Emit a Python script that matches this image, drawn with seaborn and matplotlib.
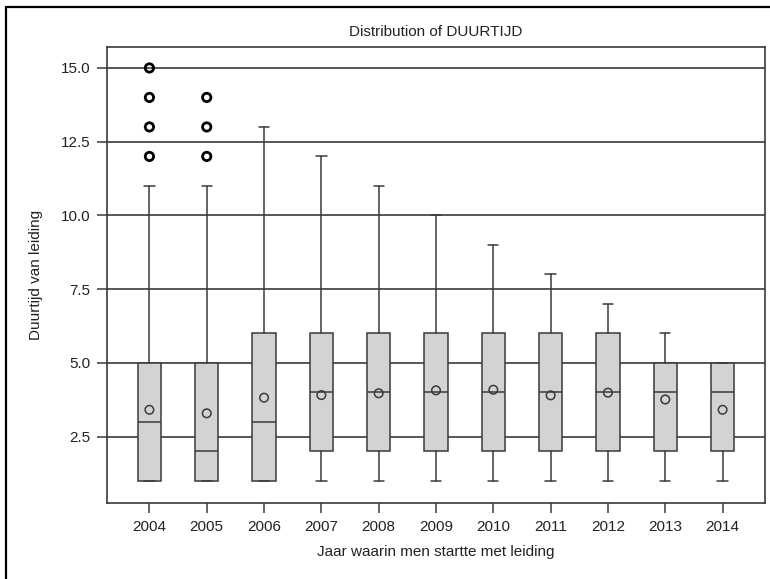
import matplotlib
matplotlib.use("Agg")
import matplotlib.pyplot as plt
import pandas as pd
import seaborn as sns
from matplotlib.lines import Line2D

# Box statistics, one entry per start year
years = [2004, 2005, 2006, 2007, 2008, 2009, 2010, 2011, 2012, 2013, 2014]
whisker_low = [1, 1, 1, 1, 1, 1, 1, 1, 1, 1, 1]
q1 = [1, 1, 1, 2, 2, 2, 2, 2, 2, 2, 2]
median = [3, 2, 3, 4, 4, 4, 4, 4, 4, 4, 4]
q3 = [5, 5, 6, 6, 6, 6, 6, 6, 6, 5, 5]
whisker_high = [11, 11, 13, 12, 11, 10, 9, 8, 7, 6, 5]
means = [3.41, 3.29, 3.82, 3.91, 3.97, 4.07, 4.09, 3.90, 3.99, 3.76, 3.41]
outlier_year = [2004, 2004, 2004, 2004, 2005, 2005, 2005]
outlier_value = [12, 13, 14, 15, 12, 13, 14]

sns.set_theme(style="white")
plt.rcParams["font.family"] = ["Liberation Sans", "DejaVu Sans"]

fig = plt.figure(figsize=(7.7, 5.79), dpi=100)
ax = fig.add_axes([107 / 770, 1 - 503 / 579, (765 - 107) / 770, (503 - 47) / 579])

edge = "#3a3a3a"
stats = [
    dict(whislo=lo, q1=a, med=m, q3=b, whishi=hi, label=str(y))
    for y, lo, a, m, b, hi in zip(years, whisker_low, q1, median, q3, whisker_high)
]
ax.bxp(stats, positions=range(len(years)), widths=0.41, patch_artist=True,
       showfliers=False, capwidths=0.18,
       boxprops=dict(facecolor="#d3d3d3", edgecolor=edge, linewidth=1.1),
       medianprops=dict(color=edge, linewidth=1.1),
       whiskerprops=dict(color=edge, linewidth=1.1),
       capprops=dict(color=edge, linewidth=1.1))

pos = {y: i for i, y in enumerate(years)}
mean_df = pd.DataFrame({"x": range(len(years)), "y": means})
sns.scatterplot(data=mean_df, x="x", y="y", ax=ax, marker="o", s=38,
                facecolor="none", edgecolor=edge, linewidth=1.1, zorder=4)
out_df = pd.DataFrame({"x": [pos[y] for y in outlier_year], "y": outlier_value})
sns.scatterplot(data=out_df, x="x", y="y", ax=ax, marker="o", s=36,
                facecolor="none", edgecolor="black", linewidth=2.0, zorder=4)

ax.set_xlim(-0.74, 10.74)
ax.set_ylim(0.25, 15.71)
ax.set_xticks(range(len(years)))
ax.set_xticklabels([str(y) for y in years])
ax.set_yticks([2.5, 5.0, 7.5, 10.0, 12.5, 15.0])
ax.set_yticklabels(["2.5", "5.0", "7.5", "10.0", "12.5", "15.0"])
ax.yaxis.grid(True, color="#4a4a4a", linewidth=1.3)
ax.xaxis.grid(False)
ax.set_axisbelow(True)
ax.tick_params(axis="both", which="major", bottom=True, left=True, length=7,
               width=1.2, color="#4a4a4a", labelsize=11, labelcolor="#222222", pad=5)
for s in ax.spines.values():
    s.set_color("#3a3a3a")
    s.set_linewidth(1.2)

ax.set_xlabel("Jaar waarin men startte met leiding", fontsize=11, color="#222222", labelpad=8)
ax.set_ylabel("Duurtijd van leiding", fontsize=11, color="#222222", labelpad=13)
ax.set_title("Distribution of DUURTIJD", fontsize=11, color="#222222", pad=8)

# outer frame (only left and top edges show in the picture)
fy = 1 - 6.5 / 579
fx = 6.5 / 770
fig.add_artist(Line2D([fx, fx], [0, fy], color="black", linewidth=1.6))
fig.add_artist(Line2D([fx, 1], [fy, fy], color="black", linewidth=1.6))

fig.savefig("out.png", dpi=100)
